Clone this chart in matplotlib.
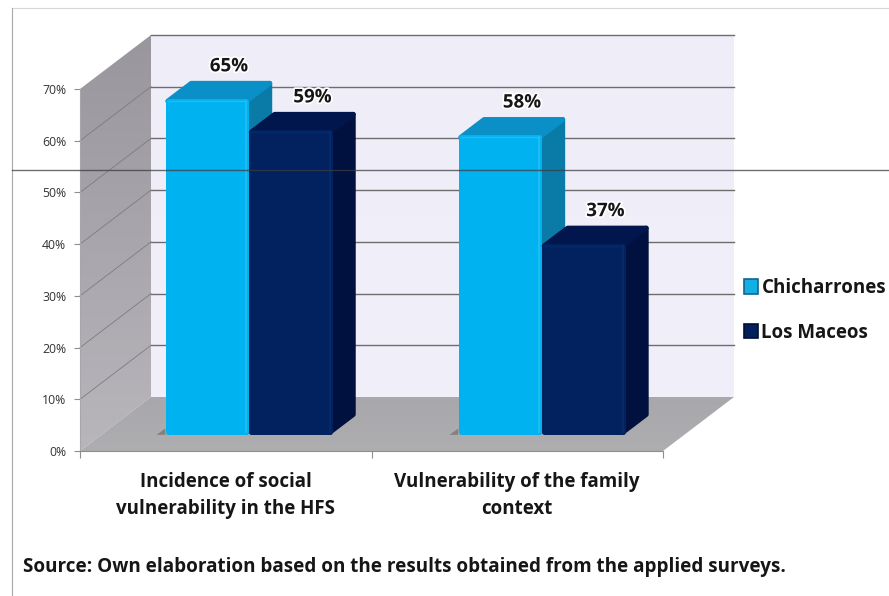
import matplotlib
matplotlib.use("Agg")
import matplotlib.pyplot as plt
import numpy as np
from matplotlib.lines import Line2D
from matplotlib.patches import Polygon, Patch
import matplotlib.patheffects as pe

categories = ["Incidence of social\nvulnerability in the HFS", "Vulnerability of the family\ncontext"]
series_names = ["Chicharrones", "Los Maceos"]
chicharrones = [65, 58]
los_maceos = [59, 37]
y_ticks = [0, 10, 20, 30, 40, 50, 60, 70]

W, H = 889, 596
plt.rcParams["font.family"] = ["Open Sans", "DejaVu Sans"]

fig = plt.figure(figsize=(W / 100, H / 100), dpi=100)
ax = fig.add_axes([80 / W, (H - 451) / H, (663 - 80) / W, (451 - 89) / H])
ax.set_xlim(0, 2)
ax.set_ylim(0, 70)

# depth of the fake 3d box, in data units
PX_X = 2 / 583
PX_Y = 70 / 362
DX = 71 * PX_X
DY = 54 * PX_Y


def proj(x, y, d=0.0):
    return (x + d * DX, y + d * DY)


def gradient(poly_pts, c1, c2, z=1):
    poly = Polygon(poly_pts, closed=True, fc="none", ec="none", zorder=z, clip_on=False)
    ax.add_patch(poly)
    xs = [p[0] for p in poly_pts]
    ys = [p[1] for p in poly_pts]
    c1 = np.array(matplotlib.colors.to_rgb(c1))
    c2 = np.array(matplotlib.colors.to_rgb(c2))
    img = np.array([c1 + (c2 - c1) * v for v in np.linspace(0, 1, 64)])[:, None, :]
    im = ax.imshow(img, extent=[min(xs), max(xs), min(ys), max(ys)], origin="lower",
                   aspect="auto", zorder=z, interpolation="bilinear")
    # the walls stick out of the axes box, so clip to the figure and the polygon only
    im.set_clip_box(fig.bbox)
    im.set_clip_path(poly)
    ax.set_xlim(0, 2)
    ax.set_ylim(0, 70)


# walls
back = [proj(0, 0, 1), proj(2, 0, 1), proj(2, 70, 1), proj(0, 70, 1)]
gradient(back, "#f1f0fa", "#efeef8", z=1)
left = [proj(0, 0), proj(0, 0, 1), proj(0, 70, 1), proj(0, 70)]
gradient(left, "#b8b6bb", "#99969d", z=1)
floor = [proj(0, 0), proj(2, 0), proj(2, 0, 1), proj(0, 0, 1)]
gradient(floor, "#aeadb0", "#a8a7ab", z=1)

for v in y_ticks[1:]:
    ax.plot([proj(0, v, 1)[0], proj(2, v, 1)[0]], [proj(0, v, 1)[1], proj(2, v, 1)[1]],
            color="#6e6c6c", lw=1.0, zorder=2, clip_on=False)
    if v < 70:
        ax.plot([proj(0, v)[0], proj(0, v, 1)[0]], [proj(0, v)[1], proj(0, v, 1)[1]],
                color="#7f7a80", lw=0.6, zorder=2, clip_on=False)

# bars
bar_w = 83.5 * PX_X
start = 64 * PX_X
d0, d1 = 0.30, 0.63
inset_x = 2.5 * PX_X
inset_y = 2.5 * PX_Y
light = dict(front="#00b3f0", top="#0a8fc6", side="#0a7aa6", edge="#1fbdf6")
dark = dict(front="#02215f", top="#00164c", side="#00103f", edge="#072a6b")


def draw_bar(x0, val, c, z):
    xa = x0 + inset_x
    xb = x0 + bar_w - inset_x
    ya = inset_y
    yb = val - inset_y
    front = [proj(xa, ya, d0), proj(xb, ya, d0), proj(xb, yb, d0), proj(xa, yb, d0)]
    top = [proj(xa, yb, d0), proj(xb, yb, d0), proj(xb, yb, d1), proj(xa, yb, d1)]
    side = [proj(xb, ya, d0), proj(xb, ya, d1), proj(xb, yb, d1), proj(xb, yb, d0)]
    for pts, col in ((side, c["side"]), (top, c["top"]), (front, c["front"])):
        ax.add_patch(Polygon(pts, closed=True, fc=col, ec=col, lw=3.6, joinstyle="round",
                             zorder=z, clip_on=False))
    ax.plot([proj(xb, ya, d0)[0]] * 2, [proj(xb, ya, d0)[1], proj(xb, yb, d0)[1]],
            color=c["edge"], lw=1.4, zorder=z, clip_on=False)
    ax.plot([proj(xa, yb, d0)[0], proj(xb, yb, d0)[0]], [proj(xa, yb, d0)[1]] * 2,
            color=c["edge"], lw=1.0, zorder=z, clip_on=False)


for i in range(2):
    x_a = i + start + (0.005 if i else 0)
    x_b = x_a + bar_w
    # little shadow to the left of the bar base
    sx, sy = proj(x_a, 0, d0)
    ax.add_patch(Polygon([(sx, sy), (sx - 0.03, sy), (sx, sy + 1.2)], fc="#85807e", ec="none", zorder=3))
    draw_bar(x_a, chicharrones[i], light, 4)
    draw_bar(x_b, los_maceos[i], dark, 5)
    for x0, val in ((x_a, chicharrones[i]), (x_b, los_maceos[i])):
        px, py = proj(x0 + bar_w / 2, val, 0.61)
        ax.annotate(f"{val}%", (px, py), xytext=(0, 4), textcoords="offset points", ha="center",
                    va="bottom", fontsize=13.5, fontweight="bold", color="#161616", zorder=7,
                    annotation_clip=False,
                    path_effects=[pe.withStroke(linewidth=2.5, foreground="white")])

# axes
for s in ("top", "right"):
    ax.spines[s].set_visible(False)
ax.spines["left"].set_color("#a8a6aa")
ax.spines["bottom"].set_color("#8f8f8f")
ax.set_yticks(y_ticks)
ax.set_yticklabels([f"{v}%" for v in y_ticks], fontsize=8.8, color="#333333")
ax.set_xticks([0, 1, 2])
ax.set_xticklabels(["", "", ""])
ax.set_xticks([0.5, 1.5], minor=True)
ax.set_xticklabels(categories, minor=True, fontsize=13.5, fontweight="bold", color="#161616",
                   linespacing=1.5)
ax.tick_params(axis="x", which="minor", length=0, pad=15)
ax.tick_params(axis="x", which="major", length=5, color="#8f8f8f")
ax.tick_params(axis="y", length=4, color="#8f8f8f", pad=6)
ax.patch.set_visible(False)

handles = [Patch(fc="#14aee6", ec="#14648c", lw=1.2), Patch(fc="#04205c", ec="#001034", lw=1.2)]
fig.legend(handles, series_names, loc="upper left", bbox_to_anchor=(729 / W, 1 - 263 / H),
           frameon=False, handlelength=0.75, handleheight=0.8, handletextpad=0.18,
           labelspacing=1.32, prop={"size": 13.5, "weight": "bold"}, labelcolor="#161616", borderpad=0.3)

fig.text(23 / W, 1 - 567 / H, "Source: Own elaboration based on the results obtained from the applied surveys.",
         fontsize=13.6, fontweight="bold", color="#161616", va="center")

# frame lines of the pasted picture
fig.add_artist(Line2D([12 / W, 1], [1 - 8 / H] * 2, color="#d8d8d8", lw=0.8))
fig.add_artist(Line2D([12 / W] * 2, [0, 1 - 8 / H], color="#a8a8a8", lw=0.8))
fig.add_artist(Line2D([12 / W, 1], [1 - 170 / H] * 2, color="#3c3c44", lw=1.0, alpha=0.75, zorder=10))

fig.savefig("out.png", dpi=100)
